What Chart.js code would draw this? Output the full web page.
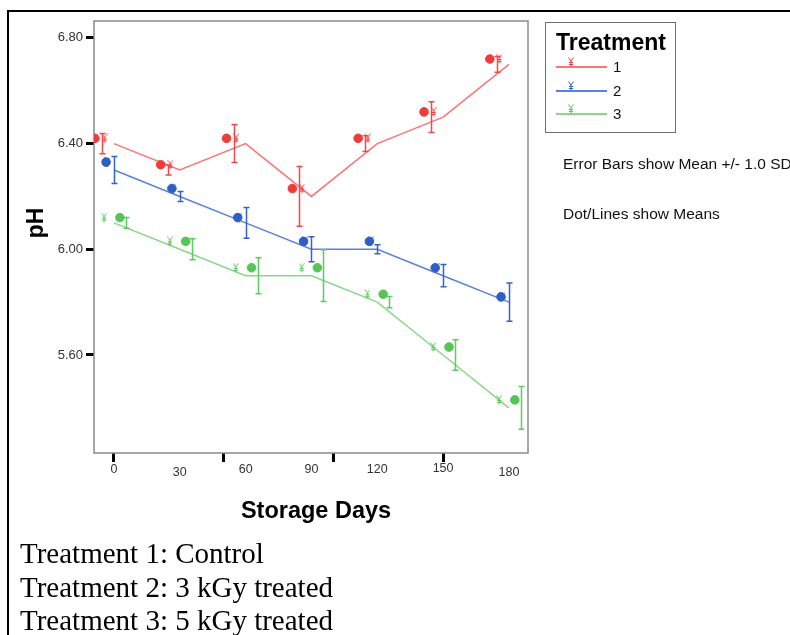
<!DOCTYPE html>
<html><head><meta charset="utf-8">
<script src="https://cdn.jsdelivr.net/npm/chart.js@4.4.1/dist/chart.umd.min.js"></script>
<style>
body{margin:0;background:#fff;}
#wrap{position:relative;width:790px;height:635px;overflow:hidden;font-family:"Liberation Sans",Arial,sans-serif;background:#fff;}
canvas{position:absolute;left:0;top:0;}
.frame{position:absolute;left:7px;top:10px;width:800px;height:640px;border-top:2px solid #000;border-left:2px solid #000;}
.abs{position:absolute;white-space:nowrap;}
#ytitle{left:35px;top:223px;transform:translate(-50%,-50%) rotate(-90deg);font-weight:bold;font-size:23px;color:#000;}
#xtitle{left:316px;top:510px;transform:translate(-50%,-50%);font-weight:bold;font-size:23.5px;color:#000;}
#legend{left:545px;top:22px;width:129px;height:109px;border:1px solid #707070;}
#legend .ttl{position:absolute;left:10px;top:6px;font-weight:bold;font-size:23px;color:#000;}
#legend .row{position:absolute;left:10px;width:100px;height:20px;}
#legend .ln{position:absolute;left:0;top:9px;width:51px;height:2px;}
#legend .lb{position:absolute;left:57px;top:0;font-size:15px;color:#111;line-height:20px;}
#legend svg{position:absolute;left:12px;top:0;}
.note{font-size:15.5px;color:#111;}
.foot{font-family:"Liberation Serif","Times New Roman",serif;font-size:29px;color:#000;left:20px;line-height:33px;}
</style></head><body>
<div id="wrap">
<canvas id="c" width="790" height="635"></canvas>
<div class="frame"></div>
<div id="ytitle" class="abs">pH</div>
<div id="xtitle" class="abs">Storage Days</div>
<div id="legend" class="abs"></div>
<div class="abs note" style="left:563px;top:155px;">Error Bars show Mean +/- 1.0 SD</div>
<div class="abs note" style="left:563px;top:205px;">Dot/Lines show Means</div>
<div class="abs foot" style="top:537px;">Treatment 1: Control</div>
<div class="abs foot" style="top:571px;">Treatment 2: 3 kGy treated</div>
<div class="abs foot" style="top:604px;">Treatment 3: 5 kGy treated</div>
</div>
<script>
// ---- data ----
const days = [0, 30, 60, 90, 120, 150, 180];
const treatmentNames = ['1', '2', '3'];
const t1Mean = [6.40, 6.30, 6.40, 6.20, 6.40, 6.50, 6.70];
const t2Mean = [6.30, 6.20, 6.10, 6.00, 6.00, 5.90, 5.80];
const t3Mean = [6.10, 6.00, 5.90, 5.90, 5.80, 5.60, 5.40];
const t1Dot = [6.42, 6.32, 6.42, 6.23, 6.42, 6.52, 6.72];
const t2Dot = [6.33, 6.23, 6.12, 6.03, 6.03, 5.93, 5.82];
const t3Dot = [6.12, 6.03, 5.93, 5.93, 5.83, 5.63, 5.43];
const t1SD = [0.038, 0.019, 0.072, 0.113, 0.03, 0.058, 0.03];
const t2SD = [0.051, 0.019, 0.058, 0.047, 0.017, 0.042, 0.072];
const t3SD = [0.02, 0.04, 0.068, 0.098, 0.021, 0.058, 0.081];
const yTicks = [5.60, 6.00, 6.40, 6.80];
const xMarkTicks = [0, 50, 100, 150];

// ---- styles ----
const xLabelLineHeights = [16, 22, 16, 16, 16, 14, 22]; // staggered tick label placement
const series = [
  {name: treatmentNames[0], mean: t1Mean, dot: t1Dot, sd: t1SD, line: '#f87676', dotC: '#ee3b3b', bar: '#f04848', dotOff: -8.7, glyphOff: -4.3, barOff: -12},
  {name: treatmentNames[1], mean: t2Mean, dot: t2Dot, sd: t2SD, line: '#5a82da', dotC: '#2f5fc6', bar: '#3562c8', dotOff: -3.6, glyphOff: -3.0, barOff: 0},
  {name: treatmentNames[2], mean: t3Mean, dot: t3Dot, sd: t3SD, line: '#88d888', dotC: '#56c456', bar: '#5ccc5c', dotOff: 2.7, glyphOff: -4.5, barOff: 12}
];

function glyphImg(color) {
  const c = document.createElement('canvas');
  c.width = 6; c.height = 10;
  const g = c.getContext('2d');
  g.strokeStyle = color; g.lineWidth = 1;
  g.beginPath();
  g.moveTo(0.5, 0.5); g.lineTo(3, 4); g.lineTo(5.5, 0.5);
  g.moveTo(3, 4); g.lineTo(3, 9.5);
  g.moveTo(1, 5.5); g.lineTo(5, 5.5);
  g.moveTo(1, 7.5); g.lineTo(5, 7.5);
  g.stroke();
  return c;
}

const datasets = [];
series.forEach(s => {
  datasets.push({type: 'line', data: days.map((d, i) => ({x: d, y: s.mean[i]})), borderColor: s.line, borderWidth: 1.5, pointRadius: 0, tension: 0, fill: false, order: 3});
});
series.forEach(s => {
  datasets.push({type: 'scatter', data: days.map((d, i) => ({x: d + s.dotOff, y: s.dot[i]})), pointStyle: 'circle', pointRadius: 4.3, backgroundColor: s.dotC, borderColor: s.dotC, borderWidth: 1, order: 1});
  datasets.push({type: 'scatter', data: days.map((d, i) => ({x: d + s.glyphOff, y: s.dot[i]})), pointStyle: glyphImg(s.dotC), pointRadius: 4, order: 0});
});

const errPlugin = {
  id: 'errbars',
  beforeDatasetsDraw(chart) {
    const {ctx, chartArea: a} = chart;
    ctx.save();
    ctx.strokeStyle = '#8a8a8a';
    ctx.lineWidth = 1.5;
    ctx.strokeRect(a.left, a.top, a.right - a.left, a.bottom - a.top);
    ctx.restore();
  },
  afterDatasetsDraw(chart) {
    const {ctx, scales: {x, y}} = chart;
    ctx.save();
    ctx.lineWidth = 1.5;
    series.forEach(s => {
      ctx.strokeStyle = s.bar;
      s.mean.forEach((m, i) => {
        const px = Math.round(x.getPixelForValue(days[i]) + s.barOff) + 0.5;
        const y1 = y.getPixelForValue(m + s.sd[i]);
        const y2 = y.getPixelForValue(m - s.sd[i]);
        ctx.beginPath();
        ctx.moveTo(px, y1); ctx.lineTo(px, y2);
        ctx.moveTo(px - 3, y1); ctx.lineTo(px + 3, y1);
        ctx.moveTo(px - 3, y2); ctx.lineTo(px + 3, y2);
        ctx.stroke();
      });
    });
    ctx.restore();
  }
};

new Chart(document.getElementById('c'), {
  data: {datasets},
  options: {
    responsive: false, animation: false, events: [],
    layout: {padding: {left: 0, right: 262, top: 21, bottom: 143}},
    plugins: {legend: {display: false}, tooltip: {enabled: false}},
    scales: {
      x: {
        type: 'linear', position: 'bottom', min: -9.11, max: 188.7, weight: 1,
        afterBuildTicks: s => { s.ticks = days.map(v => ({value: v})); },
        afterFit: s => { s.height = 30; },
        ticks: {
          callback: v => String(v), autoSkip: false, maxRotation: 0, padding: 0, color: '#333',
          font: c => ({family: 'Liberation Sans', size: 12.5, lineHeight: (xLabelLineHeights[c.index] || 16) + 'px'})
        },
        grid: {display: false, drawTicks: false},
        border: {display: false}
      },
      x2: {
        type: 'linear', position: 'bottom', min: -9.11, max: 188.7, weight: 0,
        afterBuildTicks: s => { s.ticks = xMarkTicks.map(v => ({value: v})); },
        afterFit: s => { s.height = 9; },
        ticks: {display: false},
        grid: {drawOnChartArea: false, drawTicks: true, tickLength: 9, lineWidth: 3, color: '#000', tickColor: '#000'},
        border: {display: false}
      },
      y: {
        type: 'linear', min: 5.229, max: 6.864,
        afterBuildTicks: s => { s.ticks = yTicks.map(v => ({value: v})); },
        afterFit: s => { s.width = 94; },
        ticks: {callback: v => Number(v).toFixed(2), padding: 3, color: '#333', font: {family: 'Liberation Sans', size: 13}},
        grid: {drawOnChartArea: false, drawTicks: true, tickLength: 8, lineWidth: 3, color: '#000', tickColor: '#000'},
        border: {display: false}
      }
    }
  },
  plugins: [errPlugin]
});

// ---- legend (HTML, real text) ----
const lg = document.getElementById('legend');
lg.innerHTML = '<div class="ttl">Treatment</div>';
series.forEach((s, i) => {
  const row = document.createElement('div');
  row.className = 'row';
  row.style.top = (34 + i * 23.5) + 'px';
  row.innerHTML = '<div class="ln" style="background:' + s.line + '"></div>' +
    '<svg width="6" height="10" viewBox="0 0 6 10"><path d="M0.5 0.5 L3 4 L5.5 0.5 M3 4 L3 9.5 M1 5.5 L5 5.5 M1 7.5 L5 7.5" stroke="' + s.dotC + '" stroke-width="1" fill="none"/></svg>' +
    '<div class="lb">' + s.name + '</div>';
  lg.appendChild(row);
});
</script>
</body></html>
